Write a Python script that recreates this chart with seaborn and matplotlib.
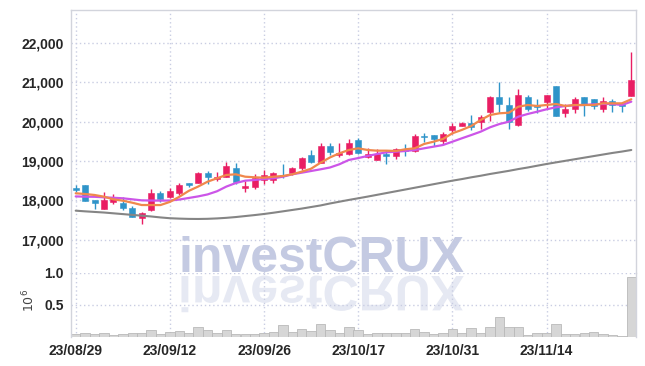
import matplotlib
matplotlib.use("Agg")
import matplotlib.pyplot as plt
import seaborn as sns
import numpy as np
import pandas as pd
from matplotlib.textpath import TextPath
from matplotlib.font_manager import FontProperties
from matplotlib.patches import PathPatch
from matplotlib.transforms import Affine2D, IdentityTransform

dates = ["23/08/29","23/08/30","23/08/31","23/09/01","23/09/04","23/09/05","23/09/06","23/09/07","23/09/08","23/09/11",
         "23/09/12","23/09/13","23/09/14","23/09/15","23/09/18","23/09/19","23/09/20","23/09/21","23/09/22","23/09/25",
         "23/09/26","23/09/27","23/10/04","23/10/05","23/10/06","23/10/10","23/10/11","23/10/12","23/10/13","23/10/16",
         "23/10/17","23/10/18","23/10/19","23/10/20","23/10/23","23/10/24","23/10/25","23/10/26","23/10/27","23/10/30",
         "23/10/31","23/11/01","23/11/02","23/11/03","23/11/06","23/11/07","23/11/08","23/11/09","23/11/10","23/11/13",
         "23/11/14","23/11/15","23/11/16","23/11/17","23/11/20","23/11/21","23/11/22","23/11/23","23/11/24","23/11/27"]

opens = [18300,18390,18009,17788,17966,17925,17798,17543,17755,18179,
         18093,18195,18420,18433,18703,18543,18601,18815,18340,18347,
         18517,18517,18640,18703,18815,19153,18957,19382,19153,19171,
         19534,19110,19026,19178,19128,19306,19263,19640,19662,19517,
         19789,19890,19959,20000,20254,20620,20425,19916,20620,20425,
         20509,20908,20214,20315,20620,20577,20315,20534,20450,20654]
closes = [18280,17990,17925,18009,18068,17798,17584,17670,18179,18034,
          18238,18390,18400,18688,18586,18602,18873,18459,18350,18576,
          18645,18703,18620,18815,19069,18983,19382,19237,19212,19466,
          19196,19178,19178,19128,19306,19255,19636,19610,19560,19680,
          19890,19959,19857,20112,20620,20450,20000,20679,20315,20366,
          20679,20153,20323,20577,20425,20400,20526,20425,20400,21060]
highs = [18390,18390,18009,18220,18161,18093,17856,17711,18281,18230,
         18306,18450,18450,18729,18746,18713,18983,18942,18500,18670,
         18772,18729,18924,18840,19110,19280,19451,19451,19451,19552,
         19577,19323,19298,19280,19340,19433,19680,19705,19662,19745,
         19960,19990,20170,20170,20654,21002,20620,20824,20679,20570,
         20690,20908,20450,20620,20620,20577,20620,20570,20467,21765]
lows = [18212,17990,17780,17780,17907,17755,17584,17398,17740,17950,
        18052,18140,18330,18433,18420,18500,18590,18416,18220,18300,
        18416,18449,18560,18636,18772,18940,18940,19153,19094,19150,
        19170,19069,19020,18917,19043,19128,19237,19491,19390,19440,
        19687,19880,19788,19807,20025,20229,19822,19900,20280,20213,
        20315,20150,20112,20230,20153,20315,20254,20254,20254,20654]
volumes = [0.053,0.065,0.048,0.065,0.032,0.048,0.065,0.065,0.11,0.048,
           0.08,0.097,0.065,0.15,0.11,0.065,0.11,0.048,0.048,0.048,
           0.065,0.08,0.18,0.08,0.13,0.097,0.21,0.11,0.065,0.15,
           0.11,0.043,0.065,0.07,0.07,0.07,0.12,0.08,0.054,0.07,
           0.12,0.065,0.135,0.07,0.15,0.31,0.15,0.15,0.037,0.06,
           0.07,0.20,0.043,0.043,0.07,0.085,0.043,0.037,0.01,0.94]
ma_short = [18179,18161,18136,18093,18026,17991,17940,17881,17880,17880,
            17960,18090,18240,18350,18474,18560,18645,18662,18601,18586,
            18576,18601,18619,18662,18729,18805,18957,19090,19196,19280,
            19323,19280,19263,19263,19255,19298,19323,19433,19491,19560,
            19705,19790,19890,20043,20170,20213,20229,20381,20425,20399,
            20425,20450,20399,20425,20425,20425,20467,20467,20467,20570]
ma_mid = [18100,18093,18090,18077,18065,18052,18026,18000,17995,17993,
          17995,18020,18060,18100,18150,18230,18350,18440,18500,18517,
          18543,18560,18601,18662,18703,18746,18789,18835,18917,19026,
          19075,19128,19178,19221,19237,19255,19280,19323,19365,19407,
          19491,19577,19660,19746,19857,19941,20000,20127,20196,20254,
          20315,20366,20399,20417,20425,20442,20450,20450,20425,20509]
ma_long = [17737,17720,17705,17690,17670,17650,17630,17610,17590,17565,
           17545,17535,17528,17526,17530,17540,17555,17575,17600,17625,
           17653,17685,17720,17755,17790,17830,17870,17920,17965,18010,
           18052,18095,18140,18185,18230,18275,18320,18365,18410,18455,
           18500,18540,18585,18625,18670,18710,18750,18795,18835,18880,
           18924,18965,19005,19045,19085,19125,19165,19205,19240,19280]
price_ticks = [17000, 18000, 19000, 20000, 21000, 22000]
price_tick_labels = ["17,000", "18,000", "19,000", "20,000", "21,000", "22,000"]
vol_ticks = [0.5, 1.0]
vol_tick_labels = ["0.5", "1.0"]

UP = "#e91e63"
DOWN = "#2f94c9"
GRID = "#c9cde2"
SPINE = "#d2d4dc"

sns.set_theme(style="white")
plt.rcParams["font.family"] = ["Liberation Sans", "DejaVu Sans"]

W, H = 645, 366
fig = plt.figure(figsize=(W / 100, H / 100), dpi=100)
fig.patch.set_facecolor("white")
L, R = 71, 636
ax_p = fig.add_axes([L / W, (H - 273) / H, (R - L) / W, (273 - 9.5) / H])
ax_v = fig.add_axes([L / W, (H - 337) / H, (R - L) / W, (337 - 273) / H], sharex=ax_p)

idx = np.arange(len(dates))
df = pd.DataFrame({"i": idx, "open": opens, "close": closes, "high": highs, "low": lows,
                   "vol": volumes, "ma5": ma_short, "ma20": ma_mid, "ma60": ma_long})

for ax in (ax_p, ax_v):
    ax.set_facecolor("none")
    ax.grid(True, color=GRID, linestyle=(0, (1, 2)), linewidth=1.0)
    ax.tick_params(length=0, labelsize=10, colors="#262626")
    for s in ax.spines.values():
        s.set_color(SPINE)
        s.set_linewidth(1.0)

# candles
for r in df.itertuples():
    col = UP if r.close >= r.open else DOWN
    ax_p.vlines(r.i, r.low, r.high, color=col, linewidth=1.0, zorder=2)
    lo = min(r.open, r.close)
    h = abs(r.close - r.open)
    if h < 45:
        lo = (r.open + r.close) / 2 - 22
        h = 45
    ax_p.bar(r.i, h, bottom=lo, width=0.64, color=col, edgecolor=col, linewidth=0.4, zorder=2)

sns.lineplot(data=df, x="i", y="ma60", ax=ax_p, color="#858585", linewidth=1.5, zorder=3)
sns.lineplot(data=df, x="i", y="ma20", ax=ax_p, color="#cc55e8", linewidth=1.6, zorder=3)
sns.lineplot(data=df, x="i", y="ma5", ax=ax_p, color="#f0884c", linewidth=1.6, zorder=4)

ax_p.set_ylim(16152, 22853)
ax_p.set_yticks(price_ticks)
ax_p.set_yticklabels(price_tick_labels, fontweight="bold")
ax_p.set_xlabel("")
ax_p.set_ylabel("")
ax_p.spines["bottom"].set_visible(False)
plt.setp(ax_p.get_xticklabels(), visible=False)

# volume
ax_v.bar(df["i"], df["vol"], width=1.0, color="#d6d6d6", edgecolor="#b9b9b9", linewidth=0.6, zorder=2)
ax_v.set_ylim(0, 1.0)
ax_v.set_yticks(vol_ticks)
ax_v.set_yticklabels(vol_tick_labels, fontweight="bold")
ax_v.spines["top"].set_visible(False)
ax_v.spines["bottom"].set_visible(False)
ax_v.set_ylabel("$10^{6}$", fontsize=9, color="#444444", family="DejaVu Serif")
ax_v.yaxis.set_label_coords(-0.060, 0.57)

ax_v.set_xlim(-0.5, 59.5)
tick_idx = idx[::10]
ax_v.set_xticks(tick_idx)
ax_v.set_xticklabels([dates[i] for i in tick_idx], fontweight="bold")
ax_v.tick_params(axis="y", pad=5)
ax_p.tick_params(axis="y", pad=5)
ax_v.tick_params(axis="x", pad=5)

# watermark
fig.text(178 / W, (H - 272) / H, "investCRUX", fontsize=36, fontweight="bold",
         family="Liberation Sans", color="#c4cae2", ha="left", va="baseline", zorder=-1)
tp = TextPath((0, 0), "investCRUX", size=50,
              prop=FontProperties(family="Liberation Sans", weight="bold"))
tr = Affine2D().scale(1, -1).translate(178, H - 276) + IdentityTransform()
fig.patches.append(PathPatch(tp, transform=tr, facecolor="#e6e9f3", edgecolor="none",
                             zorder=-1, figure=fig))

fig.savefig("out.png", dpi=100, facecolor="white")
